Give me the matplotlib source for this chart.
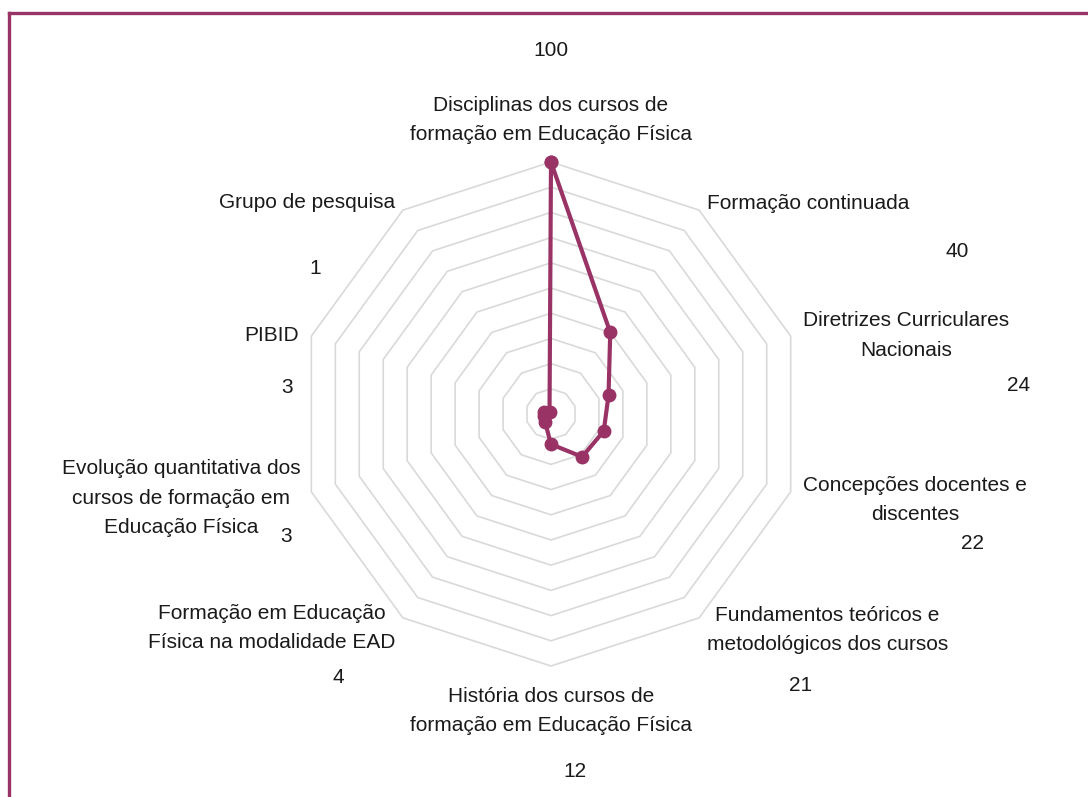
import numpy as np
import matplotlib.pyplot as plt
from matplotlib.lines import Line2D

plt.rcParams['font.family'] = ['Liberation Sans Narrow', 'Liberation Sans', 'DejaVu Sans']

categorias = [
    'Disciplinas dos cursos de\nformação em Educação Física',
    'Formação continuada',
    'Diretrizes Curriculares\nNacionais',
    'Concepções docentes e\ndiscentes',
    'Fundamentos teóricos e\nmetodológicos dos cursos',
    'História dos cursos de\nformação em Educação Física',
    'Formação em Educação\nFísica na modalidade EAD',
    'Evolução quantitativa dos\ncursos de formação em\nEducação Física',
    'PIBID',
    'Grupo de pesquisa',
]
valores = [100, 40, 24, 22, 21, 12, 4, 3, 3, 1]
niveis = [10, 20, 30, 40, 50, 60, 70, 80, 90, 100]

# where the texts sit: (angle in degrees clockwise from top, radius in data units)
pos_cat = [(0, 116.7), (50.6, 131.9), (77.5, 144.3), (103.3, 148.4), (128, 139.1),
           (180, 117.9), (232.5, 139.5), (257.2, 150.6), (285.8, 115.1), (310.9, 128)]
pos_val = [(0, 144.4), (68.25, 173.5), (86.45, 185.7), (107, 175.1), (137.5, 146.3),
           (176.2, 142), (219, 134.3), (245.1, 115.9), (275.8, 105.3), (301.75, 110.1)]

cor = '#993366'


def xy(ang_deg, r):
    a = np.radians(ang_deg)
    return r * np.sin(a), r * np.cos(a)


fig = plt.figure(figsize=(10.88, 7.97), dpi=100)
ax = fig.add_axes([299 / 1088, 131 / 797, 504 / 1088, 504 / 797])
ax.set_xlim(-100, 100)
ax.set_ylim(-100, 100)
ax.set_aspect('equal')
ax.axis('off')

n = len(categorias)
angulos = np.arange(n + 1) * 360.0 / n

# decagon grid
for lv in niveis:
    gx, gy = xy(angulos, lv)
    ax.plot(gx, gy, color='#d9d9d9', lw=1.2, zorder=1, clip_on=False)

# data
vals = valores + valores[:1]
dx, dy = xy(angulos, np.array(vals, dtype=float))
ax.plot(dx, dy, color=cor, lw=3, marker='o', markersize=9, zorder=3, clip_on=False)

for i in range(n):
    tx, ty = xy(*pos_cat[i])
    ax.text(tx, ty, categorias[i], ha='center', va='center', fontsize=15,
            color='#1a1a1a', linespacing=1.7)
    vx, vy = xy(*pos_val[i])
    ax.text(vx, vy, str(valores[i]), ha='center', va='center', fontsize=15,
            color='#1a1a1a')

# frame
x0 = 8.5 / 1088
y0 = 1 - 12.5 / 797
fig.add_artist(Line2D([x0, x0], [0, y0], color=cor, lw=2.4))
fig.add_artist(Line2D([x0, 1], [y0, y0], color=cor, lw=2.4))

fig.savefig('out.png', dpi=100)
